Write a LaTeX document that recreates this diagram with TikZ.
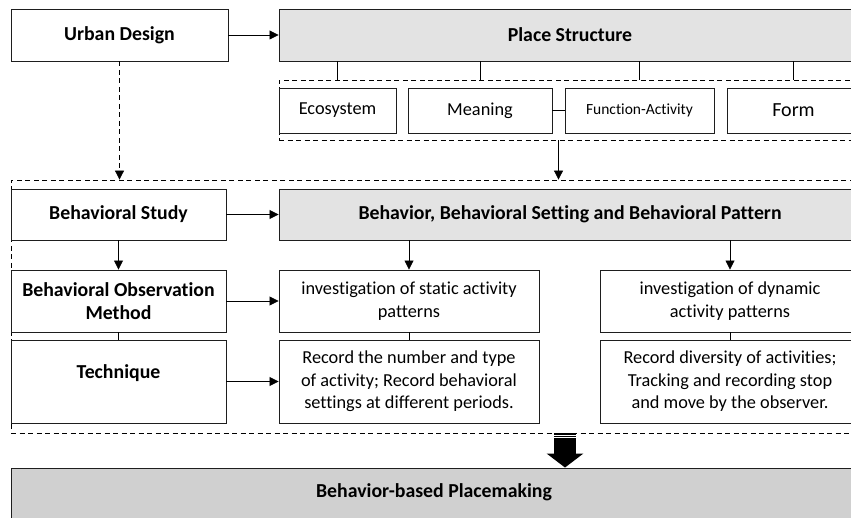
\documentclass[tikz,border=0pt]{standalone}
\usepackage{fontspec}
\setmainfont{Carlito}[RawFeature={-liga;-clig}]
\usetikzlibrary{arrows.meta,calc}

\tikzset{
  box/.style={draw={rgb,255:red,30;green,30;blue,30}, line width=0.9pt, fill=white, align=center, inner sep=0pt},
  graybox/.style={box, fill={rgb,255:red,227;green,227;blue,227}},
  darkbox/.style={box, fill={rgb,255:red,208;green,208;blue,208}},
  groupbox/.style={draw, dash pattern=on 5pt off 3.5pt, line width=0.8pt},
  txt/.style={font=\fontsize{18.3}{22.5}\selectfont},
  txtb/.style={font=\fontsize{19.8}{23}\selectfont\bfseries},
  arr/.style={-{Triangle[length=9pt,width=9pt]}, line width=0.8pt},
}

\begin{document}
\begin{tikzpicture}[x=1pt,y=1pt,yscale=-1,xscale=1]
\useasboundingbox (0,0) rectangle (851,518);
\clip (0,0) rectangle (851,518);

%Shape: Rectangle (groups)
\node[groupbox, minimum width=591pt, minimum height=60pt] (grp) at (574.5,110) {};
\node[groupbox, minimum width=869pt, minimum height=253pt] (study) at (445.5,306.5) {};

%Shape: Rectangle (top row)
\node[box, txtb, minimum width=217pt, minimum height=52pt] (ud) at (119.5,35) {Urban Design};
\node[graybox, txtb, minimum width=582pt, minimum height=52pt] (ps) at (570,35) {Place Structure};

%Shape: Rectangle (place structure parts)
\node[box, txt, minimum width=117pt, minimum height=45pt] (eco) at (337.5,110.5) {Ecosystem};
\node[box, txt, minimum width=144pt, minimum height=45pt] (mean) at (480,110.5) {Meaning};
\node[box, font=\fontsize{15.5}{18}\selectfont, minimum width=149pt, minimum height=45pt] (func) at (639.5,110.5) {Function-Activity};
\node[box, font=\fontsize{20}{23}\selectfont, minimum width=133pt, minimum height=45pt] (form) at (793.5,110.5) {Form};

%Shape: Rectangle (behavioral study)
\node[box, txtb, minimum width=215pt, minimum height=51pt] (bs) at (118.5,214.5) {Behavioral Study};
\node[graybox, txtb, minimum width=582pt, minimum height=51pt] (bbp) at (570,214.5) {Behavior, Behavioral Setting and Behavioral Pattern};
\node[box, txtb, minimum width=215pt, minimum height=62pt] (bom) at (118.5,301) {Behavioral Observation\\Method};
\node[box, txt, minimum width=260pt, minimum height=62pt] (stat) at (409,301) {investigation of static activity\\patterns};
\node[box, txt, minimum width=260pt, minimum height=62pt] (dyn) at (730,301) {investigation of dynamic\\activity patterns};
\node[box, minimum width=215pt, minimum height=83pt] (tech) at (118.5,381.5) {};
\node[txtb] at ([yshift=-8pt]tech.center) {Technique};
\node[box, txt, minimum width=260pt, minimum height=83pt] (rec1) at (409,381.5) {Record the number and type\\of activity; Record behavioral\\settings at different periods.};
\node[box, txt, minimum width=260pt, minimum height=83pt] (rec2) at (730,381.5) {Record diversity of activities;\\Tracking and recording stop\\and move by the observer.};

%Shape: Rectangle (result)
\node[darkbox, minimum width=846pt, minimum height=52pt] (bbpm) at (434,494) {};
\node[txtb] at ([yshift=-2pt]bbpm.center) {Behavior-based Placemaking};

%Straight Lines
\draw[arr] (ud.east) -- (ps.west);
\foreach \n in {eco,mean,func,form}
  \draw[line width=0.9pt] (\n.north |- ps.south) -- (\n.north |- grp.north);
\draw[line width=0.9pt] (mean.east) -- (func.west);
\coordinate (mf) at ($(mean.east)!0.5!(func.west)$);
\draw[arr] (grp.south -| mf) -- (study.north -| mf);
\draw[arr, dash pattern=on 5pt off 3.5pt] (ud.south) -- (ud.south |- study.north);

\draw[arr] (bs.east) -- (bbp.west);
\draw[arr] (bs.south) -- (bom.north);
\draw[arr] (bom.east) -- (stat.west);
\draw[arr] (stat.north |- bbp.south) -- (stat.north);
\draw[arr] (dyn.north |- bbp.south) -- (dyn.north);
\draw[line width=0.9pt] (bom.south) -- (tech.north);
\draw[line width=0.9pt] (stat.south) -- (rec1.north);
\draw[line width=0.9pt] (dyn.south) -- (rec2.north);
\draw[arr] (tech.east) -- (rec1.west);

%Block Arrow
\coordinate (ba) at (565,0);
\draw[line width=22pt, -{Triangle[length=14pt,width=36pt]}] (study.south -| ba) -- (bbpm.north -| ba);
\draw[white, line width=0.5pt] ([xshift=-11pt,yshift=2pt]study.south -| ba) -- ([xshift=11pt,yshift=2pt]study.south -| ba);
\draw[white, line width=0.5pt] ([xshift=-11pt,yshift=4pt]study.south -| ba) -- ([xshift=11pt,yshift=4pt]study.south -| ba);
\end{tikzpicture}
\end{document}
